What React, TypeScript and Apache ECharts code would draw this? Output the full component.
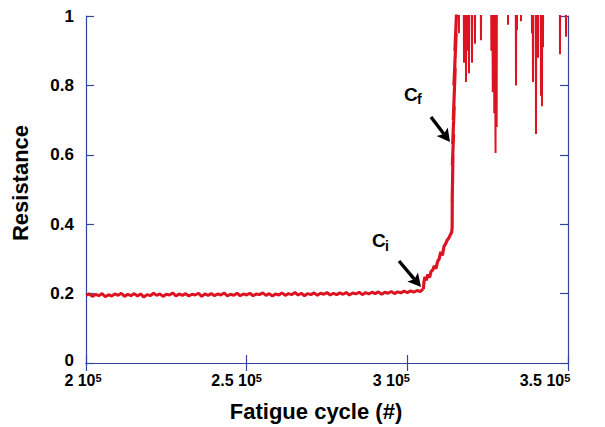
import React, { useEffect, useRef } from "react";
import * as echarts from "echarts";

// ---- axis ticks ----
const xTickValues = [200000, 250000, 300000, 350000];
const xTickMantissas = ["2", "2.5", "3", "3.5"];
const xTickExponent = "5";
const yTickValues = [0, 0.2, 0.4, 0.6, 0.8, 1];

// ---- measured trace: [fatigue cycle, resistance] ----
// stable plateau before crack initiation
const plateau: [number, number][] = [
  [200000, 0.195], [201000, 0.199], [202000, 0.192], [203000, 0.198], [204000, 0.194],
  [205000, 0.2], [206000, 0.191], [207000, 0.197], [208000, 0.193], [209000, 0.199],
  [210000, 0.195], [211000, 0.201], [212000, 0.192], [213000, 0.198], [214000, 0.194],
  [215000, 0.2], [216000, 0.193], [217000, 0.199], [218000, 0.19], [219000, 0.197],
  [220000, 0.194], [221000, 0.201], [222000, 0.195], [223000, 0.199], [224000, 0.192],
  [225000, 0.198], [226000, 0.196], [227000, 0.202], [228000, 0.193], [229000, 0.199],
  [230000, 0.195], [231000, 0.2], [232000, 0.193], [233000, 0.198], [234000, 0.196],
  [235000, 0.201], [236000, 0.192], [237000, 0.199], [238000, 0.195], [239000, 0.2],
  [240000, 0.194], [241000, 0.199], [242000, 0.196], [243000, 0.202], [244000, 0.193],
  [245000, 0.198], [246000, 0.195], [247000, 0.201], [248000, 0.194], [249000, 0.199],
  [250000, 0.196], [251000, 0.201], [252000, 0.194], [253000, 0.199], [254000, 0.197],
  [255000, 0.202], [256000, 0.195], [257000, 0.2], [258000, 0.193], [259000, 0.199],
  [260000, 0.196], [261000, 0.202], [262000, 0.195], [263000, 0.2], [264000, 0.197],
  [265000, 0.203], [266000, 0.196], [267000, 0.201], [268000, 0.194], [269000, 0.2],
  [270000, 0.197], [271000, 0.202], [272000, 0.195], [273000, 0.201], [274000, 0.198],
  [275000, 0.203], [276000, 0.196], [277000, 0.201], [278000, 0.197], [279000, 0.202],
  [280000, 0.198], [281000, 0.203], [282000, 0.196], [283000, 0.202], [284000, 0.199],
  [285000, 0.204], [286000, 0.197], [287000, 0.203], [288000, 0.199], [289000, 0.204],
  [290000, 0.2], [291000, 0.205], [292000, 0.198], [293000, 0.204], [294000, 0.201],
  [295000, 0.206], [296000, 0.2], [297000, 0.205], [298000, 0.202], [299000, 0.207],
  [300000, 0.203], [301000, 0.208], [302000, 0.204], [303000, 0.209], [304000, 0.206],
  [304600, 0.211],
];
// growth after crack initiation (Ci) up to failure onset (Cf)
const growth: [number, number][] = [
  [305000, 0.213], [305200, 0.235], [305500, 0.248], [305900, 0.238], [306400, 0.255],
  [306900, 0.246], [307400, 0.264], [307900, 0.268], [308400, 0.28], [308900, 0.272],
  [309400, 0.292], [309900, 0.3], [310400, 0.32], [310900, 0.31], [311400, 0.336],
  [311900, 0.343], [312400, 0.354], [312900, 0.36], [313400, 0.37], [313800, 0.376],
  [313950, 0.39], [314000, 0.5], [313950, 0.46], [314200, 0.6], [314000, 0.57],
  [314400, 0.66], [314100, 0.63], [314600, 0.74], [314300, 0.7], [314900, 0.85],
  [314500, 0.8], [315200, 0.95], [314800, 0.9], [315500, 1.05], [315200, 1.3],
];
// unstable region: trace mostly above full scale, dipping down
const unstable: [number, number][] = [
  [315900, 1.3], [316050, 0.95], [316200, 1.3],
  [317450, 1.3], [317634, 0.865], [317800, 1.3],
  [318100, 1.3], [318256, 0.81], [318400, 1.3],
  [318600, 1.3], [318750, 0.9], [318900, 1.3],
  [319050, 1.3], [319190, 0.835], [319330, 1.3],
  [319980, 1.3], [320123, 0.865], [320270, 1.3],
  [320900, 1.3], [321057, 0.92], [321200, 1.3],
  [322780, 1.3], [322924, 0.93], [323070, 1.3],
  [326000, 1.3], [326150, 0.9], [326300, 1.3],
  [326500, 1.3], [326600, 0.78], [326700, 1.3],
  [326950, 1.3], [327050, 0.72], [327150, 1.3],
  [327300, 1.3], [327450, 0.605], [327600, 1.3],
  [327700, 1.3], [327800, 0.68], [327900, 1.3],
  [331180, 1.3], [331326, 0.975], [331470, 1.3],
  [333670, 1.3], [333816, 0.8], [333960, 1.3],
  [334000, 1.3], [334127, 0.96], [334260, 1.3],
  [335230, 1.3], [335372, 0.985], [335510, 1.3],
  [338650, 1.3], [338795, 0.95], [338930, 1.3],
  [338980, 1.3], [339106, 0.81], [339230, 1.3],
  [339900, 1.3], [340040, 0.66], [340180, 1.3],
  [340240, 1.3], [340351, 0.93], [340460, 1.3],
  [340540, 1.3], [340662, 0.88], [340780, 1.3],
  [341470, 1.3], [341596, 0.77], [341720, 1.3],
  [341790, 1.3], [341907, 0.74], [342020, 1.3],
  [342100, 1.3], [342218, 0.91], [342340, 1.3],
  [347370, 1.3], [347509, 0.89], [347650, 1.3],
  [349230, 1.3], [349376, 0.94], [349520, 1.3],
  [350000, 1.3],
];

// ---- annotation labels ----
const annotationMain = ["C", "C"];
const annotationSub = ["i", "f"];

const axisColor = "#34449a";
const lineColor = "#dc1421";
const fontFamily = "'Liberation Sans', Arial, Helvetica, sans-serif";

function arrow(tail: [number, number], tip: [number, number]) {
  const dx = tip[0] - tail[0];
  const dy = tip[1] - tail[1];
  const len = Math.hypot(dx, dy);
  const ux = dx / len;
  const uy = dy / len;
  const hl = 13;
  const hw = 7;
  const bx = tip[0] - ux * hl;
  const by = tip[1] - uy * hl;
  const nx = -uy * hw;
  const ny = ux * hw;
  return [
    {
      type: "line",
      shape: { x1: tail[0], y1: tail[1], x2: bx + ux * 3, y2: by + uy * 3 },
      style: { stroke: "#000", lineWidth: 3.4 },
    },
    {
      type: "polygon",
      shape: {
        points: [
          [tip[0], tip[1]],
          [bx + nx, by + ny],
          [bx + ux * 3, by + uy * 3],
          [bx - nx, by - ny],
        ],
      },
      style: { fill: "#000" },
    },
  ];
}

export default function App() {
  const ref = useRef<HTMLDivElement>(null);
  useEffect(() => {
    if (!ref.current) return;
    const chart = echarts.init(ref.current, null, { renderer: "svg" });
    const shiftPad = [6, 20, 32, 46];
    const rich: Record<string, any> = {
      b: { fontSize: 16, fontWeight: "bold", fontFamily, color: "#000", lineHeight: 16 },
    };
    shiftPad.forEach((p, i) => {
      rich["s" + i] = {
        fontSize: 11,
        fontWeight: "bold",
        fontFamily,
        color: "#000",
        verticalAlign: "top",
        lineHeight: 10,
        padding: [0, p, 0, 0],
      };
    });
    const yRich = {
      n: { fontSize: 17, fontWeight: "bold", fontFamily, color: "#000", lineHeight: 14 },
      z: { fontSize: 17, fontWeight: "bold", fontFamily, color: "#000", lineHeight: 14, padding: [0, 0, 6, 0] },
    };
    const commonTick = { show: true, inside: true, length: 8, lineStyle: { color: axisColor, width: 1.2 } };
    chart.setOption({
      animation: false,
      grid: { left: 86, right: 37, top: 16, bottom: 64, outerBoundsMode: "none", containLabel: false },
      xAxis: [
        {
          type: "value",
          position: "bottom",
          min: 200000,
          max: 350000,
          interval: 50000,
          axisLine: { show: true, lineStyle: { color: axisColor, width: 1.2 } },
          axisTick: commonTick,
          splitLine: { show: false },
          axisLabel: {
            margin: 9,
            formatter: (v: number) => {
              const i = xTickValues.indexOf(v);
              if (i < 0) return "";
              return `{b|${xTickMantissas[i]} 10}{s${i}|${xTickExponent}}`;
            },
            rich,
          },
        },
        {
          type: "value",
          position: "top",
          min: 200000,
          max: 350000,
          interval: 50000,
          axisLine: { show: true, lineStyle: { color: axisColor, width: 1.2 } },
          axisTick: commonTick,
          splitLine: { show: false },
          axisLabel: { show: false },
        },
      ],
      yAxis: [
        {
          type: "value",
          position: "left",
          min: 0,
          max: 1,
          interval: 0.2,
          axisLine: { show: true, lineStyle: { color: axisColor, width: 1.2 } },
          axisTick: commonTick,
          splitLine: { show: false },
          axisLabel: {
            margin: 12,
            formatter: (v: number) => {
              const i = yTickValues.findIndex((t) => Math.abs(t - v) < 1e-9);
              if (i < 0) return "";
              const t = yTickValues[i];
              if (t === 0) return "{z|0}";
              return `{n|${t === 1 ? "1" : t.toFixed(1)}}`;
            },
            rich: yRich,
          },
        },
        {
          type: "value",
          position: "right",
          min: 0,
          max: 1,
          interval: 0.2,
          axisLine: { show: true, lineStyle: { color: axisColor, width: 1.2 } },
          axisTick: commonTick,
          splitLine: { show: false },
          axisLabel: { show: false },
        },
      ],
      series: [
        {
          type: "line",
          data: [...plateau, ...growth.slice(0, 1)],
          showSymbol: false,
          symbol: "none",
          clip: true,
          lineStyle: { color: lineColor, width: 3 },
          z: 1,
        },
        {
          type: "line",
          data: growth,
          showSymbol: false,
          symbol: "none",
          clip: true,
          lineStyle: { color: lineColor, width: 3.2 },
          z: 1,
        },
        {
          type: "line",
          data: [...growth.slice(-1), ...unstable],
          showSymbol: false,
          symbol: "none",
          clip: true,
          lineStyle: { color: lineColor, width: 2 },
          z: 1,
        },
      ],
      graphic: [
        {
          type: "text",
          x: 20,
          y: 183,
          rotation: Math.PI / 2,
          style: {
            text: "Resistance",
            fontSize: 22,
            fontWeight: "bold",
            fontFamily,
            fill: "#000",
            align: "center",
            verticalAlign: "middle",
          },
        },
        {
          type: "text",
          x: 316,
          y: 411,
          style: {
            text: "Fatigue cycle (#)",
            fontSize: 22,
            fontWeight: "bold",
            fontFamily,
            fill: "#000",
            align: "center",
            verticalAlign: "middle",
          },
        },
        {
          type: "text",
          x: 372,
          y: 240,
          style: { text: annotationMain[0], fontSize: 19, fontWeight: "bold", fontFamily, fill: "#000", align: "left", verticalAlign: "middle" },
        },
        {
          type: "text",
          x: 385,
          y: 246,
          style: { text: annotationSub[0], fontSize: 14, fontWeight: "bold", fontFamily, fill: "#000", align: "left", verticalAlign: "middle" },
        },
        {
          type: "text",
          x: 404,
          y: 94,
          style: { text: annotationMain[1], fontSize: 19, fontWeight: "bold", fontFamily, fill: "#000", align: "left", verticalAlign: "middle" },
        },
        {
          type: "text",
          x: 417,
          y: 99,
          style: { text: annotationSub[1], fontSize: 14, fontWeight: "bold", fontFamily, fill: "#000", align: "left", verticalAlign: "middle" },
        },
        ...arrow([399, 261], [421, 287]),
        ...arrow([431, 117], [450, 142]),
      ],
    });
    return () => chart.dispose();
  }, []);
  return (
    <div
      ref={ref}
      style={{ position: "absolute", left: 0, top: 0, width: 605, height: 427, background: "#fff" }}
    />
  );
}
